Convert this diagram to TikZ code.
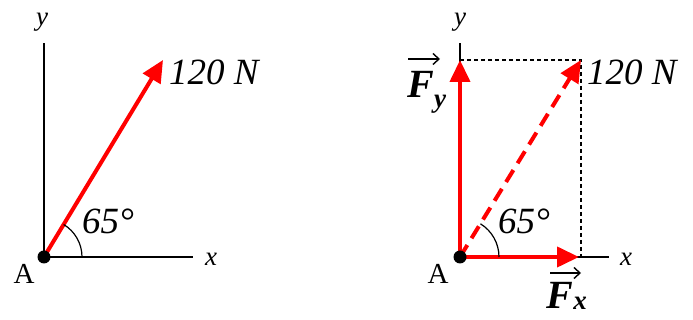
\documentclass[tikz,border=0pt]{standalone}
\usepackage{fontspec}
\setmainfont{Liberation Serif}
\usetikzlibrary{arrows.meta}
\tikzset{
  axis/.style={line width=1.8pt, black},
  force/.style={line width=4pt, red, -{Triangle[length=22pt,width=20pt]}},
  dforce/.style={force, dash pattern=on 14pt off 8pt},
  guide/.style={line width=1.1pt, black, dash pattern=on 4pt off 3pt},
  anglearc/.style={line width=1.2pt, black},
  big/.style={font=\fontsize{37}{40}\selectfont\itshape, inner sep=0pt},
  axlbl/.style={font=\fontsize{27}{30}\selectfont\itshape, inner sep=0pt},
  ptlbl/.style={font=\fontsize{29}{32}\selectfont, inner sep=0pt},
  compF/.style={font=\fontsize{40}{42}\selectfont\bfseries\itshape, inner sep=0pt},
  compS/.style={font=\fontsize{27}{29}\selectfont\bfseries\itshape, inner sep=0pt},
  vecarrow/.style={line width=1.4pt, black, -{Straight Barb[length=6pt,width=11pt,line width=1.4pt]}},
}
\begin{document}
\begin{tikzpicture}[x=1pt,y=1pt]
\useasboundingbox (0,0) rectangle (693,320);
% ---------- left diagram ----------
\coordinate (A1) at (44,63);
\coordinate (Y1) at (44,277);
\coordinate (X1) at (193,63);
\coordinate (T1) at (163,260);
\draw[axis] (A1) -- (Y1);
\draw[axis] (A1) -- (X1);
\draw[force] (A1) -- (T1);
\draw[anglearc] ([xshift=38pt]A1) arc[start angle=0, end angle=58.9, radius=38pt];
\fill (A1) circle (6.5pt);
\node[axlbl] (ly1) at (42,298) {y};
\node[axlbl] (lx1) at (211,61) {x};
\node[ptlbl] (la1) at (24,46) {A};
\node[big, anchor=west] (lf1) at (169,248) {120 N};
\node[big] (lg1) at (108,99) {65°};
% ---------- right diagram ----------
\coordinate (A2) at (460,63);
\coordinate (Y2) at (460,277);
\coordinate (FY) at (460,260);
\coordinate (FX) at (579,63);
\coordinate (X2) at (609,63);
\coordinate (C2) at (581,260);
\draw[axis] (A2) -- (Y2);
\draw[axis] (A2) -- (X2);
\draw[guide] (FY) -- (C2) -- (581,63);
\draw[force] (A2) -- (FY);
\draw[force] (A2) -- (FX);
\draw[dforce] (A2) -- (C2);
\draw[anglearc] ([xshift=39pt]A2) arc[start angle=0, end angle=58.4, radius=39pt];
\fill (A2) circle (6.5pt);
\node[axlbl] (ly2) at (460,298) {y};
\node[axlbl] (lx2) at (626,61) {x};
\node[ptlbl] (la2) at (438,46) {A};
\node[big, anchor=west] (lf2) at (587,248) {120 N};
\node[big] (lg2) at (524,99) {65°};
% component labels
\node[compF] (fyF) at (421,236) {F};
\node[compS] (fyS) at (440,216) {y};
\coordinate (fyA1) at (408,261);
\coordinate (fyA2) at (440,261);
\draw[vecarrow] (fyA1) -- (fyA2);
\node[compF] (fxF) at (560,25) {F};
\node[compS] (fxS) at (580,17) {x};
\coordinate (fxA1) at (550,47);
\coordinate (fxA2) at (581,47);
\draw[vecarrow] (fxA1) -- (fxA2);
\end{tikzpicture}
\end{document}
